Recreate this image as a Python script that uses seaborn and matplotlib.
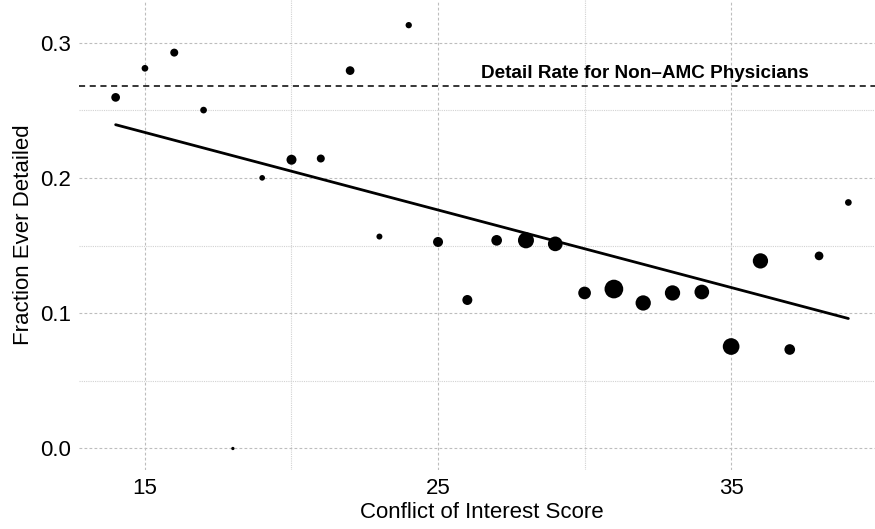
import matplotlib
matplotlib.use("Agg")
import matplotlib.pyplot as plt
import numpy as np
import pandas as pd
import seaborn as sns
from matplotlib.ticker import MultipleLocator

# Conflict-of-interest score per group, share of physicians ever detailed,
# and group size (drives marker area)
coi_score = [14, 15, 16, 17, 18, 19, 20, 21, 22, 23, 24, 25, 26,
             27, 28, 29, 30, 31, 32, 33, 34, 35, 36, 37, 38, 39]
frac_detailed = [0.2596, 0.2811, 0.2927, 0.2502, 0.0000, 0.2001, 0.2135,
                 0.2144, 0.2794, 0.1567, 0.3130, 0.1527, 0.1098, 0.1539,
                 0.1539, 0.1513, 0.1150, 0.1179, 0.1076, 0.1150, 0.1157,
                 0.0754, 0.1387, 0.0732, 0.1424, 0.1819]
n_physicians = [76, 45, 64, 45, 11, 32, 100, 64, 76, 36, 40, 100, 100,
                114, 256, 216, 161, 350, 234, 234, 216, 279, 234, 114, 76, 45]

# Weighted linear fit evaluated at the ends of the score range
fit_score = [14, 39]
fit_frac = [0.2394, 0.0961]

# Reference rate for physicians outside academic medical centres
non_amc_rate = 0.268
non_amc_label = "Detail Rate for Non\u2013AMC Physicians"

df = pd.DataFrame({"score": coi_score, "frac": frac_detailed, "n": n_physicians})
fit = pd.DataFrame({"score": fit_score, "frac": fit_frac})

sns.set_theme(style="white")
plt.rcParams["font.family"] = ["Liberation Sans", "DejaVu Sans"]

fig = plt.figure(figsize=(8.75, 5.29), dpi=100)
ax = fig.add_axes([79 / 875, 59 / 529, 806 / 875, 470 / 529])

# marker area (pt^2) for smallest and largest group
d_min, d_max = 3.3 * 0.72, 18.7 * 0.72
sns.scatterplot(data=df, x="score", y="frac", size="n",
                sizes=(d_min ** 2, d_max ** 2), color="black",
                linewidth=0, legend=False, ax=ax, zorder=3)
sns.lineplot(data=fit, x="score", y="frac", color="black", linewidth=2.0,
             ax=ax, zorder=4)
ax.axhline(non_amc_rate, color="black", linewidth=1.1,
           linestyle=(0, (4, 3)), zorder=2)
ax.text(32.05, 0.2775, non_amc_label, ha="center", va="center",
        fontsize=13.6, fontweight="bold", color="black")

ax.set_xlim(12.75, 40.25)
ax.set_ylim(-0.0159, 0.3316)
ax.xaxis.set_major_locator(MultipleLocator(10))
ax.xaxis.set_minor_locator(MultipleLocator(5))
ax.yaxis.set_major_locator(MultipleLocator(0.1))
ax.yaxis.set_minor_locator(MultipleLocator(0.05))
ax.set_xticks([15, 25, 35])
ax.set_yticks([0.0, 0.1, 0.2, 0.3])
ax.set_yticklabels(["0.0", "0.1", "0.2", "0.3"])

ax.grid(which="major", color="#bdbdbd", linewidth=0.8, linestyle=(0, (2.5, 2)))
ax.grid(which="minor", color="#d2d2d2", linewidth=0.8, linestyle=(0, (1, 1)))
ax.set_axisbelow(True)
for s in ax.spines.values():
    s.set_visible(False)
ax.tick_params(which="both", length=0, labelsize=16, colors="black", pad=6)
ax.set_xlabel("Conflict of Interest Score", fontsize=16, labelpad=2,
              color="black")
ax.set_ylabel("Fraction Ever Detailed", fontsize=16, labelpad=4,
              color="black")

fig.savefig("out.png", dpi=100)
